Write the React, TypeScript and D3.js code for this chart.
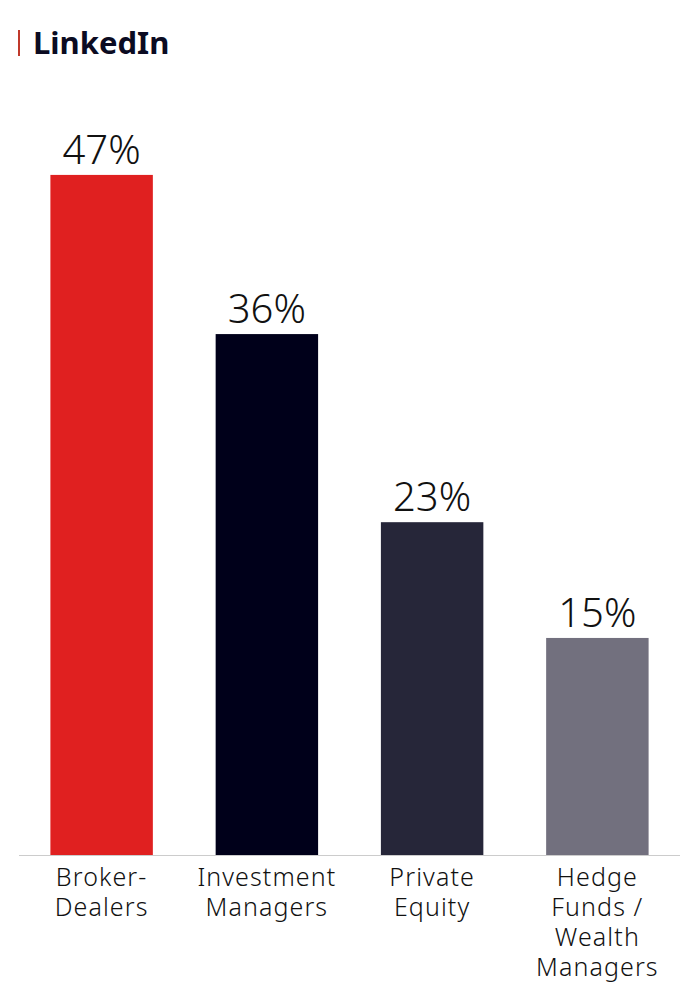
import React from "react";
import * as d3 from "d3";

const categories: string[][] = [
  ["Broker-", "Dealers"],
  ["Investment", "Managers"],
  ["Private", "Equity"],
  ["Hedge", "Funds /", "Wealth", "Managers"],
];
const values: number[] = [47, 36, 23, 15];
const colors: string[] = ["#e02020", "#00001a", "#262639", "#72707e"];
const title = "LinkedIn";

const W = 700;
const H = 1000;
const FONT = "'Noto Sans', 'Open Sans', sans-serif";

export default function App() {
  const x = d3
    .scaleBand<number>()
    .domain(values.map((_, i) => i))
    .range([19, 680])
    .paddingInner(0.38)
    .paddingOuter(0.19);
  const y = d3.scaleLinear().domain([0, 50]).range([855, 131.5]);

  return (
    <svg
      width={W}
      height={H}
      style={{ position: "absolute", left: 0, top: 0, background: "#fff" }}
    >
      <rect x={18} y={30} width={2} height={26} fill="#c0392b" />
      <text
        x={33}
        y={54}
        fontFamily={FONT}
        fontWeight={700}
        fontSize={31}
        fill="#0b0b22"
      >
        {title}
      </text>
      {values.map((v, i) => (
        <g key={i}>
          <rect
            x={x(i)}
            y={y(v)}
            width={x.bandwidth()}
            height={y(0) - y(v)}
            fill={colors[i]}
          />
          <text
            x={(x(i) as number) + x.bandwidth() / 2}
            y={y(v) - 11}
            textAnchor="middle"
            fontFamily={FONT}
            fontWeight={300}
            fontSize={40}
            fill="#111"
          >
            {v}%
          </text>
          <text
            textAnchor="middle"
            fontFamily={FONT}
            fontWeight={300}
            fontSize={25}
            letterSpacing={1.1}
            fill="#111"
          >
            {categories[i].map((line, j) => (
              <tspan
                key={j}
                x={(x(i) as number) + x.bandwidth() / 2}
                y={886 + j * 30}
              >
                {line}
              </tspan>
            ))}
          </text>
        </g>
      ))}
      <line x1={19} x2={680} y1={855.5} y2={855.5} stroke="#cccccc" strokeWidth={1} />
    </svg>
  );
}
